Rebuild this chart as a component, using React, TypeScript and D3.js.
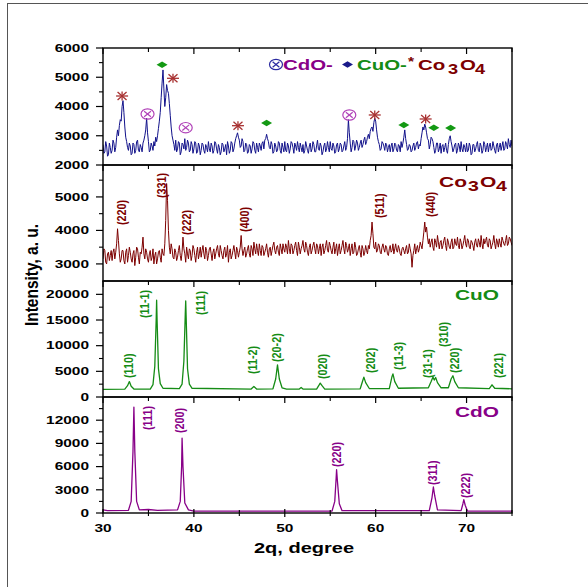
import React from 'react';
import * as d3 from 'd3';

// 2θ grid for the noisy patterns: main points at 30.0, 30.2, … 75.0,
// in-between readings at 30.1, 30.3, … 74.9
const GRID_START = 30;
const GRID_STEP = 0.2;

// CdO–CuO–Co3O4 composite (navy)
const mixedPattern = [
  2700, 2450, 2650, 2350, 2600,
  2500, 2750, 2600, 3200, 3350,
  3500, 4200, 3300, 2800, 2500,
  2650, 2400, 2700, 2500, 2850,
  2450, 2600, 2750, 3000, 3600,
  2800, 2500, 2650, 2800, 2950,
  3000, 3500, 4300, 5250, 4000,
  4750, 4450, 3700, 3000, 2700,
  2850, 2550, 2750, 2450, 2700,
  2900, 2600, 2750, 2500, 2700,
  2550, 2750, 2450, 2650, 2500,
  2700, 2400, 2600, 2800, 2450,
  2650, 2500, 2750, 2400, 2600,
  2450, 2700, 2550, 2350, 2650,
  2500, 2750, 2550, 2900, 3100,
  2850, 2650, 2800, 2500, 2700,
  2450, 2650, 2550, 2750, 2400,
  2600, 2750, 2500, 2800, 2850,
  3050, 2800, 2550, 2700, 2450,
  2650, 2500, 2750, 2400, 2600,
  2800, 2450, 2650, 2550, 2750,
  2400, 2650, 2800, 2450, 2600,
  2700, 2500, 2650, 2400, 2750,
  2550, 2700, 2450, 2850, 2500,
  2650, 2450, 2750, 2550, 2600,
  2800, 2500, 2650, 2450, 2750,
  2550, 2700, 2500, 2800, 2600,
  3550, 2750, 2600, 2800, 2650,
  2750, 2600, 2850, 2700, 2950,
  2800, 3050, 3150, 3300, 3450,
  3500, 2950, 2700, 2550, 2750,
  2500, 2700, 2600, 2450, 2750,
  2550, 2700, 2450, 2650, 2800,
  2750, 3200, 2700, 2550, 2650,
  2500, 2750, 2600, 2800, 2700,
  2900, 3300, 3400, 3100, 2850,
  2700, 2900, 2600, 2500, 2750,
  2550, 2400, 2700, 2600, 2500,
  2700, 3000, 2650, 2550, 2750,
  2500, 2650, 2800, 2450, 2600,
  2750, 2500, 2650, 2400, 2700,
  2550, 2800, 2450, 2650, 2500,
  2700, 2600, 2450, 2750, 2550,
  2650, 2400, 2750, 2600, 2500,
  2800, 2550, 2700, 2900, 2600,
  2650,
];
const mixedPatternMid = [
  2400, 2800, 2300, 2750, 2400,
  2850, 2450, 2950, 3000, 3550,
  4000, 3800, 2950, 2600, 2750,
  2350, 2750, 2400, 2800, 2500,
  2700, 2450, 2850, 3200, 3100,
  2450, 2750, 2500, 2650, 2800,
  3250, 3800, 4800, 4600, 4300,
  4550, 4100, 3300, 2850, 2500,
  2450, 2800, 2350, 2750, 2550,
  2500, 2850, 2450, 2800, 2400,
  2800, 2400, 2750, 2350, 2750,
  2500, 2700, 2450, 2550, 2750,
  2400, 2800, 2550, 2700, 2350,
  2750, 2450, 2700, 2800, 2400,
  2800, 2450, 2750, 3000, 2950,
  2600, 2900, 2450, 2750, 2400,
  2700, 2400, 2800, 2500, 2750,
  2450, 2650, 2750, 2550, 2900,
  2900, 2600, 2800, 2400, 2750,
  2450, 2800, 2500, 2750, 2450,
  2500, 2750, 2400, 2800, 2600,
  2750, 2500, 2600, 2750, 2450,
  2400, 2800, 2500, 2650, 2450,
  2800, 2450, 2650, 2550, 2750,
  2350, 2650, 2450, 2800, 2450,
  2550, 2750, 2400, 2700, 2450,
  2750, 2450, 2650, 2500, 2900,
  3100, 2450, 2850, 2500, 2850,
  2500, 2750, 2600, 2850, 2700,
  2950, 2900, 3250, 3150, 3600,
  3200, 2800, 2500, 2800, 2650,
  2750, 2450, 2700, 2650, 2450,
  2750, 2500, 2700, 2450, 2600,
  2950, 2900, 2500, 2700, 2450,
  2650, 2500, 2750, 2550, 2650,
  3100, 3200, 3300, 2900, 2550,
  2950, 2800, 2400, 2750, 2450,
  2750, 2650, 2450, 2750, 2400,
  2900, 2800, 2450, 2700, 2400,
  2750, 2450, 2550, 2700, 2450,
  2450, 2750, 2350, 2700, 2450,
  2700, 2500, 2750, 2400, 2800,
  2450, 2750, 2650, 2500, 2800,
  2500, 2700, 2450, 2750, 2650,
  2500, 2800, 2550, 2700, 2850,
];

// Co3O4 (dark red)
const co3o4Pattern = [
  3150, 3400, 3000, 3350, 3250,
  3100, 3450, 3350, 4050, 3300,
  3150, 3400, 3000, 3450, 3250,
  3350, 3050, 3400, 3200, 3450,
  3000, 3300, 3800, 3150, 3350,
  3050, 3400, 3200, 3000, 3350,
  3150, 3400, 3050, 3300, 3600,
  5400, 4000, 3300, 3450, 3150,
  3350, 3200, 3550, 3100, 3800,
  3300, 3500, 3150, 3400, 3250,
  3450, 3050, 3500, 3300, 3200,
  3550, 3150, 3400, 3250, 3500,
  3100, 3450, 3300, 3550, 3200,
  3400, 3150, 3500, 3300, 3050,
  3450, 3250, 3550, 3150, 3400,
  3350, 3850, 3250, 3500, 3300,
  3550, 3200, 3450, 3650, 3300,
  3400, 3600, 3250, 3500, 3350,
  3600, 3200, 3500, 3400, 3650,
  3300, 3550, 3250, 3450, 3600,
  3350, 3500, 3700, 3300, 3550,
  3400, 3650, 3250, 3500, 3450,
  3700, 3350, 3550, 3250, 3600,
  3400, 3650, 3300, 3550, 3450,
  3250, 3600, 3400, 3700, 3350,
  3550, 3300, 3650, 3450, 3250,
  3600, 3400, 3700, 3300, 3550,
  3450, 3250, 3600, 3350, 3500,
  3300, 3550, 3200, 3450, 3350,
  3400, 3550, 3700, 4250, 3500,
  3650, 3400, 3550, 3300, 3600,
  3350, 3500, 3250, 3550, 3400,
  3300, 3600, 3350, 3450, 3250,
  3500, 3300, 3550, 3350, 3450,
  2900, 3400, 3300, 3550, 3450,
  3550, 3700, 4250, 4100, 3600,
  3500, 3750, 3400, 3650, 3850,
  3450, 3700, 3550, 3800, 3400,
  3650, 3450, 3750, 3500, 3600,
  3800, 3450, 3650, 3550, 3850,
  3500, 3700, 3450, 3650, 3400,
  3750, 3500, 3650, 3850, 3450,
  3600, 3800, 3500, 3700, 3550,
  3850, 3450, 3650, 3750, 3500,
  3700, 3550, 3850, 3600, 3750,
  3550,
];
const co3o4PatternMid = [
  3450, 3050, 3300, 3100, 3400,
  3350, 3150, 3600, 3700, 3050,
  3400, 3100, 3350, 3050, 3500,
  3150, 3300, 2950, 3500, 3200,
  3350, 3500, 3300, 3450, 3150,
  3300, 3100, 3450, 3250, 3000,
  3350, 3200, 3450, 3250, 4300,
  4900, 3500, 3600, 3200, 3450,
  3100, 3400, 3250, 3350, 3450,
  3050, 3300, 3450, 3100, 3550,
  3250, 3350, 3150, 3500, 3400,
  3300, 3500, 3100, 3450, 3300,
  3350, 3150, 3450, 3300, 3550,
  3250, 3400, 3200, 3550, 3350,
  3150, 3400, 3350, 3500, 3200,
  3500, 3450, 3400, 3200, 3450,
  3300, 3550, 3250, 3450, 3600,
  3250, 3400, 3550, 3250, 3450,
  3350, 3450, 3250, 3550, 3400,
  3500, 3350, 3600, 3300, 3450,
  3600, 3300, 3450, 3600, 3300,
  3550, 3400, 3650, 3300, 3550,
  3450, 3650, 3350, 3500, 3300,
  3550, 3450, 3600, 3300, 3600,
  3500, 3300, 3550, 3400, 3650,
  3400, 3500, 3300, 3600, 3450,
  3300, 3550, 3450, 3650, 3350,
  3600, 3450, 3300, 3650, 3250,
  3450, 3350, 3550, 3250, 3550,
  3300, 3450, 3850, 3900, 3450,
  3350, 3600, 3350, 3500, 3450,
  3550, 3300, 3450, 3350, 3600,
  3450, 3400, 3550, 3300, 3450,
  3400, 3450, 3300, 3600, 3300,
  3250, 3600, 3450, 3350, 3650,
  3450, 3950, 3950, 3800, 3750,
  3650, 3500, 3750, 3500, 3650,
  3650, 3450, 3700, 3550, 3750,
  3500, 3650, 3450, 3750, 3550,
  3550, 3750, 3450, 3700, 3600,
  3750, 3500, 3700, 3550, 3650,
  3550, 3750, 3500, 3600, 3750,
  3700, 3550, 3750, 3450, 3650,
  3600, 3750, 3500, 3600, 3800,
  3600, 3700, 3550, 3800, 3650,
];

// CuO (green): [2θ, intensity]
const cuoPattern: [number, number][] = [
  [30, 1500], [32.4, 1550], [32.7, 2200], [32.9, 3000], [33.1, 2100], [33.4, 1550],
  [35.2, 1550], [35.5, 2400], [35.7, 6000], [35.85, 15000], [35.9, 18860], [35.95, 15000],
  [36.1, 5500], [36.3, 2600], [36.6, 1700], [38.4, 1650], [38.7, 2500], [38.9, 7000],
  [39.05, 16000], [39.1, 18720], [39.15, 15500], [39.3, 5500], [39.5, 2500], [39.8, 1700],
  [46.3, 1550], [46.6, 2050], [46.9, 1550], [48.7, 1600], [49.0, 3500], [49.2, 6260],
  [49.4, 3500], [49.7, 1800], [50.2, 1550], [51.6, 1550], [51.8, 1850], [52.0, 1550],
  [53.5, 1550], [53.8, 2400], [53.9, 2700], [54.1, 2200], [54.4, 1550], [58.3, 1600],
  [58.6, 3300], [58.7, 3870], [58.9, 2800], [59.3, 1650], [61.5, 1650], [61.8, 4000],
  [61.9, 4500], [62.1, 3000], [62.5, 1700], [65.8, 1800], [66.1, 3000], [66.3, 3870],
  [66.45, 3300], [66.6, 3800], [66.8, 2800], [67.2, 1800], [68.0, 1800], [68.3, 3500],
  [68.5, 4130], [68.7, 3000], [69.1, 1800], [72.5, 1650], [72.8, 2380], [73.1, 1700],
  [75, 1600],
];

// CdO (purple): [2θ, intensity]
const cdoPattern: [number, number][] = [
  [30, 400], [30.5, 300], [32.8, 350], [33.1, 1500], [33.3, 8000], [33.4, 13690],
  [33.5, 8000], [33.7, 1500], [34.0, 400], [35.0, 450], [36.0, 350], [38.2, 400],
  [38.5, 1500], [38.65, 6000], [38.7, 9690], [38.8, 6000], [39.0, 1300], [39.4, 400],
  [40, 250], [55.2, 250], [55.5, 1500], [55.65, 4500], [55.7, 5590], [55.8, 4000],
  [56.0, 1200], [56.3, 300], [65.9, 300], [66.2, 2000], [66.35, 3360], [66.5, 2200],
  [66.8, 400], [69.4, 300], [69.6, 1200], [69.7, 1720], [69.85, 1000], [70.1, 250],
  [75, 250],
];

// Reflection labels: [text, 2θ, intensity at label start]
const co3o4Labels: [string, number, number][] = [
  ['(220)', 32.06, 4162], ['(331)', 36.46, 4968], ['(222)', 39.21, 3863],
  ['(400)', 45.62, 3953], ['(511)', 60.48, 4371], ['(440)', 66.09, 4400],
];
const cuoLabels: [string, number, number][] = [
  ['(110)', 32.86, 3700], ['(11-1)', 34.62, 15390], ['(111)', 40.75, 15970],
  ['(11-2)', 46.5, 4480], ['(20-2)', 49.14, 6820], ['(020)', 54.17, 3500],
  ['(202)', 59.45, 4680], ['(11-3)', 62.57, 5260], ['(31-1)', 65.76, 3700],
  ['(310)', 67.52, 9740], ['(220)', 68.73, 4680], ['(221)', 73.57, 3700],
];
const cdoLabels: [string, number, number][] = [
  ['(111)', 34.95, 10730], ['(200)', 38.47, 10340], ['(220)', 55.71, 5950],
  ['(311)', 66.31, 3620], ['(222)', 69.9, 1940],
];

// Phase markers in the composite panel: [2θ, intensity]
const co3o4Marks: [number, number][] = [[32.1, 4359], [37.7, 4964], [44.85, 3344], [59.9, 3710], [65.5, 3573]];
const cdoMarks: [number, number][] = [[34.9, 3744], [39.1, 3275], [57.1, 3710]];
const cuoMarks: [number, number][] = [[36.5, 5429], [48.0, 3436], [63.1, 3368], [66.4, 3275], [68.25, 3265]];

const xMajor = [30, 40, 50, 60, 70];
const xMinor = [35, 45, 55, 65, 75];
const mixMajor = [2000, 3000, 4000, 5000, 6000];
const mixMinor = [2500, 3500, 4500, 5500];
const coMajor = [3000, 4000, 5000];
const coMinor = [3500, 4500, 5500];
const cuoMajor = [0, 5000, 10000, 15000, 20000];
const cuoMinor = [2500, 7500, 12500, 17500];
const cdoMajor = [0, 3000, 6000, 9000, 12000];
const cdoMinor = [1500, 4500, 7500, 10500, 13500];

const FONT = "'Liberation Sans', Arial, sans-serif";
const NAVY = '#11118a';
const DARKRED = '#7d0000';
const GREEN = '#158c15';
const PURPLE = '#880088';

const LEFT = 103;
const RIGHT = 512;

const toGrid = (main: number[], mid: number[]): [number, number][] => {
  const pts: [number, number][] = [];
  main.forEach((v, i) => {
    pts.push([GRID_START + i * GRID_STEP, v]);
    if (i < mid.length) pts.push([GRID_START + (i + 0.5) * GRID_STEP, mid[i]]);
  });
  return pts;
};

function SText(props: any) {
  const { x, y, sx = 1.47, size = 10.5, weight = 'bold', fill = '#000', anchor = 'start', children, ...rest } = props;
  return (
    <text transform={`translate(${x},${y}) scale(${sx},1)`} fontSize={size} fontWeight={weight}
      fill={fill} textAnchor={anchor} fontFamily={FONT} {...rest}>{children}</text>
  );
}

export default function App() {
  const x = d3.scaleLinear().domain([30, 75]).range([LEFT, RIGHT]);

  const panels = [
    { key: 'mix', top: 48, bottom: 165, domain: [2000, 6000], major: mixMajor, minor: mixMinor, color: NAVY, data: toGrid(mixedPattern, mixedPatternMid), sw: 1 },
    { key: 'co', top: 165, bottom: 281, domain: [2490, 5953], major: coMajor, minor: coMinor, color: DARKRED, data: toGrid(co3o4Pattern, co3o4PatternMid), sw: 1 },
    { key: 'cuo', top: 281, bottom: 397, domain: [0, 22600], major: cuoMajor, minor: cuoMinor, color: GREEN, data: cuoPattern, sw: 1.3 },
    { key: 'cdo', top: 397, bottom: 513, domain: [0, 15000], major: cdoMajor, minor: cdoMinor, color: PURPLE, data: cdoPattern, sw: 1.3 },
  ].map(p => ({ ...p, y: d3.scaleLinear().domain(p.domain).range([p.bottom, p.top]) }));

  const [pMix, pCo, pCuo, pCdo] = panels;

  const hkl = (labels: [string, number, number][], p: any, color: string) =>
    labels.map(([t, tx, ty], i) => (
      <text key={p.key + i} transform={`translate(${x(tx)},${p.y(ty)}) scale(1.25,1) rotate(-90)`}
        fontSize={10.8} fontWeight="bold" fill={color} fontFamily={FONT} dominantBaseline="central">{t}</text>
    ));

  const asterisk = (cx: number, cy: number, k: string) => (
    <g key={k} stroke="#a83232" strokeWidth={1.3} fill="none">
      <line x1={cx - 6} y1={cy} x2={cx + 6} y2={cy} />
      <line x1={cx - 4.5} y1={cy - 4} x2={cx + 4.5} y2={cy + 4} />
      <line x1={cx - 4.5} y1={cy + 4} x2={cx + 4.5} y2={cy - 4} />
      <line x1={cx} y1={cy - 4.5} x2={cx} y2={cy + 4.5} />
    </g>
  );
  const otimes = (cx: number, cy: number, k: string, color: string) => (
    <g key={k} stroke={color} strokeWidth={1.2} fill="none">
      <ellipse cx={cx} cy={cy} rx={6.5} ry={5.2} />
      <line x1={cx - 3.4} y1={cy - 2.8} x2={cx + 3.4} y2={cy + 2.8} />
      <line x1={cx - 3.4} y1={cy + 2.8} x2={cx + 3.4} y2={cy - 2.8} />
    </g>
  );
  const diamond = (cx: number, cy: number, k: string, color: string) => (
    <path key={k} d={`M${cx - 5.5},${cy} L${cx},${cy - 3.3} L${cx + 5.5},${cy} L${cx},${cy + 3.3} Z`} fill={color} />
  );

  return (
    <svg width={588} height={587} style={{ position: 'absolute', left: 0, top: 0, background: '#fff' }}>
      <rect x={0} y={0} width={588} height={587} fill="#fff" />
      {/* outer frame */}
      <line x1={7} y1={3.5} x2={588} y2={3.5} stroke="#555" strokeWidth={1} />
      <line x1={7.5} y1={3} x2={7.5} y2={587} stroke="#555" strokeWidth={1} />

      <defs>
        {panels.map(p => (
          <clipPath key={p.key} id={'clip-' + p.key}>
            <rect x={LEFT} y={p.top} width={RIGHT - LEFT} height={p.bottom - p.top} />
          </clipPath>
        ))}
      </defs>

      {panels.map(p => {
        const line = d3.line<[number, number]>().x(d => x(d[0])).y(d => p.y(d[1]));
        return (
          <g key={p.key}>
            <path d={line(p.data) || ''} fill="none" stroke={p.color} strokeWidth={p.sw}
              strokeLinejoin="round" clipPath={`url(#clip-${p.key})`} />
            <rect x={LEFT} y={p.top} width={RIGHT - LEFT} height={p.bottom - p.top} fill="none" stroke="#000" strokeWidth={1.4} />
            {/* y ticks */}
            {p.major.map(v => (
              <g key={'M' + v}>
                <line x1={LEFT - 7} x2={LEFT} y1={p.y(v)} y2={p.y(v)} stroke="#000" strokeWidth={1.2} />
                <SText x={89} y={p.y(v) + 3.8} anchor="end">{v}</SText>
              </g>
            ))}
            {p.minor.map(v => (
              <line key={'m' + v} x1={LEFT - 4} x2={LEFT} y1={p.y(v)} y2={p.y(v)} stroke="#000" strokeWidth={1.1} />
            ))}
            {/* x ticks at panel top, pointing inward */}
            {xMajor.map(v => (
              <line key={'tx' + v} x1={x(v)} x2={x(v)} y1={p.top} y2={p.top + 6} stroke="#000" strokeWidth={1.2} />
            ))}
            {xMinor.map(v => (
              <line key={'tm' + v} x1={x(v)} x2={x(v)} y1={p.top} y2={p.top + 4} stroke="#000" strokeWidth={1.1} />
            ))}
          </g>
        );
      })}

      {/* bottom x axis */}
      {xMajor.map(v => (
        <g key={'bx' + v}>
          <line x1={x(v)} x2={x(v)} y1={pCdo.bottom - 4} y2={pCdo.bottom + 4} stroke="#000" strokeWidth={1.2} />
          <SText x={x(v)} y={532} anchor="middle">{v}</SText>
        </g>
      ))}
      {xMinor.map(v => (
        <line key={'bm' + v} x1={x(v)} x2={x(v)} y1={pCdo.bottom - 3} y2={pCdo.bottom + 3} stroke="#000" strokeWidth={1.1} />
      ))}

      {/* axis titles */}
      <SText x={304} y={553} anchor="middle" size={14.5} sx={1.38}>2q, degree</SText>
      <text transform={`translate(38,275) scale(1.15,1) rotate(-90)`} fontSize={15.5} fontWeight="bold"
        fontFamily={FONT} textAnchor="middle" fill="#000">Intensity, a. u.</text>

      {/* phase markers in composite panel */}
      {co3o4Marks.map(([a, b], i) => asterisk(x(a), pMix.y(b), 'as' + i))}
      {cdoMarks.map(([a, b], i) => otimes(x(a), pMix.y(b), 'ot' + i, '#b040b8'))}
      {cuoMarks.map(([a, b], i) => diamond(x(a), pMix.y(b), 'di' + i, '#139913'))}

      {/* legend */}
      {otimes(276, 64.5, 'leg-ot', '#2a2aa0')}
      <SText x={283} y={69.5} size={14} sx={1.46} fill={PURPLE}>CdO-</SText>
      {diamond(347.5, 64.5, 'leg-di', '#1a1a8a')}
      <SText x={357} y={69.5} size={14} sx={1.46} fill={GREEN}>CuO-</SText>
      <SText x={408} y={66} size={12} sx={1.3} fill={DARKRED}>*</SText>
      <SText x={418} y={69.5} size={14} sx={1.46} fill={DARKRED}>Co</SText>
      <SText x={448} y={74} size={14} sx={1.3} fill={DARKRED}>3</SText>
      <SText x={460} y={69.5} size={14} sx={1.46} fill={DARKRED}>O</SText>
      <SText x={475} y={74} size={14} sx={1.3} fill={DARKRED}>4</SText>

      {/* panel names */}
      <SText x={439} y={187} size={15} sx={1.4} fill={DARKRED}>Co</SText>
      <SText x={468} y={191} size={15} sx={1.3} fill={DARKRED}>3</SText>
      <SText x={480} y={187} size={15} sx={1.4} fill={DARKRED}>O</SText>
      <SText x={496} y={191} size={15} sx={1.3} fill={DARKRED}>4</SText>
      <SText x={455} y={299.5} size={14} sx={1.49} fill={GREEN}>CuO</SText>
      <SText x={455} y={417} size={14} sx={1.49} fill={PURPLE}>CdO</SText>

      {hkl(co3o4Labels, pCo, DARKRED)}
      {hkl(cuoLabels, pCuo, GREEN)}
      {hkl(cdoLabels, pCdo, PURPLE)}
    </svg>
  );
}
